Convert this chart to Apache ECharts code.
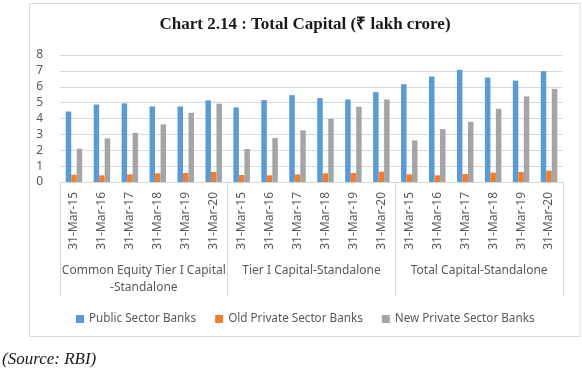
<!DOCTYPE html>
<html>
<head>
<meta charset="utf-8">
<script src="https://cdn.jsdelivr.net/npm/echarts@6/dist/echarts.min.js"></script>
<style>
  html, body { margin: 0; padding: 0; background: #fff; }
  #chart { width: 582px; height: 375px; }
</style>
</head>
<body>
<div id="chart"></div>
<script>
// 数据
var groups = ['Common Equity Tier I Capital\n-Standalone', 'Tier I Capital-Standalone', 'Total Capital-Standalone'];
var dates = ['31-Mar-15', '31-Mar-16', '31-Mar-17', '31-Mar-18', '31-Mar-19', '31-Mar-20'];
var seriesNames = ['Public Sector Banks', 'Old Private Sector Banks', 'New Private Sector Banks'];
var publicSector = [4.44, 4.88, 4.95, 4.76, 4.76, 5.14,
                    4.70, 5.16, 5.47, 5.28, 5.20, 5.66,
                    6.16, 6.65, 7.07, 6.58, 6.39, 6.98];
var oldPrivate = [0.46, 0.42, 0.48, 0.55, 0.57, 0.63,
                  0.44, 0.42, 0.48, 0.55, 0.57, 0.65,
                  0.48, 0.42, 0.50, 0.59, 0.63, 0.71];
var newPrivate = [2.10, 2.75, 3.10, 3.63, 4.36, 4.93,
                  2.08, 2.77, 3.25, 3.98, 4.74, 5.20,
                  2.62, 3.33, 3.79, 4.61, 5.39, 5.87];

// 每个组下面的日期 (key 保持唯一)
var categories = [];
groups.forEach(function(g, gi) {
  dates.forEach(function(d) {
    categories.push(gi + '|' + d);
  });
});

var colors = ['#5b9bd5', '#ed7d31', '#a5a5a5'];
var textColor = '#595959';
var lineColor = '#d9d9d9';
var font = 'Noto Sans';

var Chart = echarts.init(document.getElementById('chart'), null, { renderer: 'canvas' });

function bar(name, data, color) {
  return {
    name: name,
    type: 'bar',
    barWidth: 5.5,
    barGap: '0%',
    itemStyle: { color: color },
    data: data
  };
}

var option = {
  animation: false,
  color: colors,
  grid: { left: 60, right: 19, top: 55, bottom: 193, containLabel: false },
  legend: {
    data: seriesNames,
    top: 308,
    left: 71,
    icon: 'rect',
    itemWidth: 8,
    itemHeight: 8,
    itemGap: 19,
    textStyle: { color: textColor, fontSize: 11.7, fontFamily: font }
  },
  xAxis: [{
    type: 'category',
    data: categories,
    axisLine: { show: true, lineStyle: { color: lineColor } },
    axisTick: { show: false },
    axisLabel: {
      rotate: 90,
      interval: 0,
      margin: 10,
      color: textColor,
      fontSize: 12,
      fontFamily: font,
      formatter: function(v) { return v.split('|')[1]; }
    }
  }, {
    type: 'category',
    data: groups,
    position: 'bottom',
    axisLine: { show: false },
    axisTick: { show: true, length: 114, lineStyle: { color: lineColor } },
    axisLabel: {
      interval: 0,
      margin: 80,
      color: textColor,
      fontSize: 12,
      lineHeight: 17,
      fontFamily: font
    }
  }],
  yAxis: {
    type: 'value',
    min: 0,
    max: 8,
    interval: 1,
    axisLine: { show: false },
    axisTick: { show: false },
    axisLabel: { color: textColor, fontSize: 12, fontFamily: font, margin: 17 },
    splitLine: { lineStyle: { color: lineColor } }
  },
  series: [
    bar(seriesNames[0], publicSector, colors[0]),
    bar(seriesNames[1], oldPrivate, colors[1]),
    bar(seriesNames[2], newPrivate, colors[2])
  ],
  graphic: [{
    type: 'rect',
    z: -10,
    shape: { x: 29.5, y: 3.5, width: 550.5, height: 333 },
    style: { fill: '#fff', stroke: lineColor, lineWidth: 1 }
  }, {
    type: 'text',
    x: 305,
    y: 25,
    style: {
      text: 'Chart 2.14 : Total Capital (\u20b9 lakh crore)',
      fontFamily: 'Liberation Serif',
      fontWeight: 'bold',
      fontSize: 17,
      fill: '#1a1a1a',
      textAlign: 'center',
      textVerticalAlign: 'middle'
    }
  }, {
    type: 'text',
    x: 2,
    y: 360,
    style: {
      text: '(Source: RBI)',
      fontFamily: 'Liberation Serif',
      fontStyle: 'italic',
      fontSize: 17,
      fill: '#1a1a1a',
      textAlign: 'left',
      textVerticalAlign: 'middle'
    }
  }]
};

Chart.setOption(option);
</script>
</body>
</html>
